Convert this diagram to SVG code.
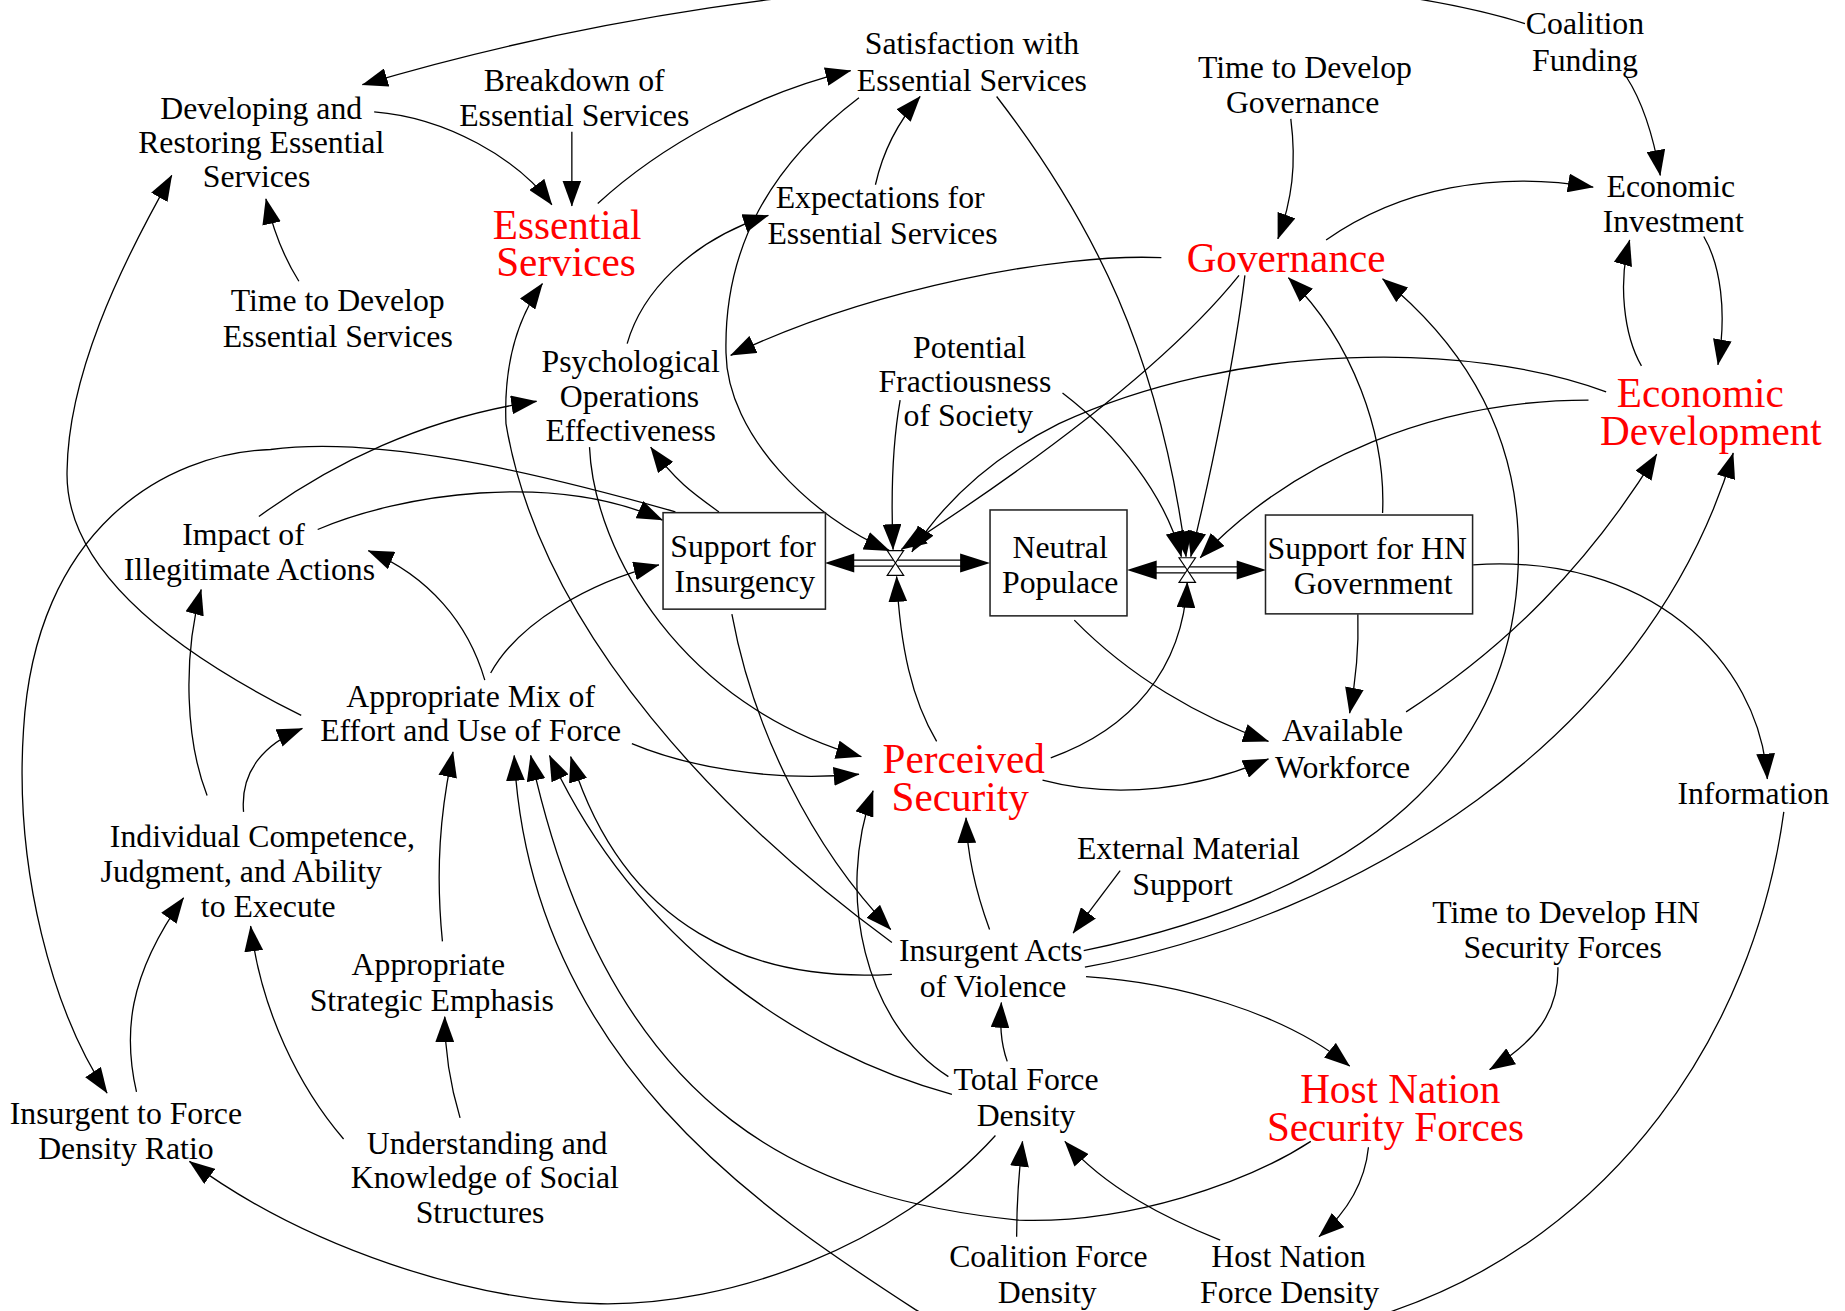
<svg xmlns="http://www.w3.org/2000/svg" width="1845" height="1311" viewBox="0 0 1845 1311">
<defs>
<style>
.n{font-family:"Liberation Serif","Times New Roman",serif;font-size:27px;fill:#000;text-anchor:middle}
.r{font-family:"Liberation Serif","Times New Roman",serif;font-size:35px;fill:#ff0000;text-anchor:middle}
.c{fill:none;stroke:#000;stroke-width:1.1;marker-end:url(#ah)}
.box{fill:#fff;stroke:#222;stroke-width:1.3}
.valve{fill:#fff;stroke:#000;stroke-width:1}
</style>
<marker id="ah" markerUnits="userSpaceOnUse" markerWidth="22" markerHeight="16" viewBox="0 0 22 16" refX="21.5" refY="8" orient="auto">
<path d="M0,0 L22,8 L0,16 z" fill="#000"/>
</marker>
</defs>
<rect x="0" y="0" width="1845" height="1311" fill="#fff"/>
<g transform="scale(1.17666)">
<g id="connectors">
<path class="c" d="M1296 20 C1120 -35,700 -45,308 72"/>
<path class="c" d="M318 95 C380 100,440 135,469 174"/>
<path class="c" d="M486 112 L486 175"/>
<path class="c" d="M254 239 C242 220,232 195,226 169"/>
<path class="c" d="M508 173 C560 125,640 80,723 60"/>
<path class="c" d="M744 157 C750 130,762 105,782 82"/>
<path class="c" d="M730 83 C655 140,615 210,617 300 C618 370,690 440,756 468"/>
<path class="c" d="M847 82 C930 190,985 300,1008 473"/>
<path class="c" d="M1097 101 C1102 140,1098 170,1086 203"/>
<path class="c" d="M1382 65 C1395 85,1405 115,1411 149"/>
<path class="c" d="M1127 204 C1190 160,1270 145,1354 159"/>
<path class="c" d="M1448 201 C1462 225,1468 265,1460 310"/>
<path class="c" d="M1395 311 C1380 285,1375 240,1385 204"/>
<path class="c" d="M987 219 C900 215,740 245,621 302"/>
<path class="c" d="M533 292 C545 250,585 205,653 183"/>
<path class="c" d="M611 435 C590 420,575 410,553 380"/>
<path class="c" d="M220 439 C280 395,360 355,456 341"/>
<path class="c" d="M270 450 C340 420,470 400,563 442"/>
<path class="c" d="M574 435 C450 400,320 370,230 382 C140 385,30 450,20 620 C12 740,45 860,91 929"/>
<path class="c" d="M256 608 C120 540,55 470,57 400 C58 320,100 230,146 149"/>
<path class="c" d="M116 928 C105 880,108 830,156 763"/>
<path class="c" d="M292 968 C255 925,222 860,213 787"/>
<path class="c" d="M391 950 C382 920,378 895,378 864"/>
<path class="c" d="M376 800 C370 740,374 690,385 639"/>
<path class="c" d="M176 676 C158 630,155 560,171 501"/>
<path class="c" d="M207 690 C204 655,225 632,257 619"/>
<path class="c" d="M412 578 C398 530,365 490,313 468"/>
<path class="c" d="M417 572 C440 530,500 495,560 480"/>
<path class="c" d="M537 632 C580 650,650 665,730 658"/>
<path class="c" d="M501 380 C505 470,580 600,732 643"/>
<path class="c" d="M796 630 C775 595,765 550,762 490"/>
<path class="c" d="M893 644 C960 620,1005 570,1009 495"/>
<path class="c" d="M886 663 C950 680,1020 670,1078 645"/>
<path class="c" d="M913 527 C960 575,1020 610,1078 630"/>
<path class="c" d="M1154 522 C1155 555,1152 580,1147 606"/>
<path class="c" d="M1195 605 C1280 550,1350 480,1408 386"/>
<path class="c" d="M1252 480 C1400 470,1495 560,1502 662"/>
<path class="c" d="M1516 690 C1490 880,1370 1050,1184 1114 C1064 1155,880 1170,778 1113 C650 1030,450 900,437 642"/>
<path class="c" d="M1114 970 C1060 1005,960 1040,866 1037 C700 1020,520 960,451 642"/>
<path class="c" d="M809 930 C680 895,540 800,467 642"/>
<path class="c" d="M758 828 C640 835,530 790,485 643"/>
<path class="c" d="M806 915 C735 870,710 760,742 672"/>
<path class="c" d="M846 965 C760 1060,620 1110,510 1108 C400 1106,260 1060,161 987"/>
<path class="c" d="M856 902 C850 885,850 870,851 852"/>
<path class="c" d="M864 1051 C864 1020,866 995,869 970"/>
<path class="c" d="M1037 1054 C990 1035,940 1010,905 970"/>
<path class="c" d="M1163 975 C1160 1005,1145 1030,1121 1051"/>
<path class="c" d="M1324 822 C1325 860,1305 885,1266 909"/>
<path class="c" d="M923 830 C1000 835,1090 860,1147 906"/>
<path class="c" d="M952 740 L912 793"/>
<path class="c" d="M841 790 C830 760,822 730,821 695"/>
<path class="c" d="M622 522 C640 620,690 720,757 790"/>
<path class="c" d="M758 801 C620 700,460 540,430 360 C428 310,440 270,461 241"/>
<path class="c" d="M921 808 C1150 760,1300 650,1290 450 C1285 360,1240 290,1175 237"/>
<path class="c" d="M922 822 C1150 780,1400 630,1473 385"/>
<path class="c" d="M1175 436 C1178 370,1150 290,1095 236"/>
<path class="c" d="M765 340 C758 380,757 420,759 467"/>
<path class="c" d="M903 334 C950 370,990 420,1004 473"/>
<path class="c" d="M1053 234 C1000 300,900 380,766 467"/>
<path class="c" d="M1058 234 C1050 300,1030 400,1012 473"/>
<path class="c" d="M1365 333 C1250 290,1050 290,900 360 C840 390,800 430,775 469"/>
<path class="c" d="M1350 340 C1220 340,1100 390,1020 474"/>
</g>
<g id="flow-left">
<line x1="720" y1="478.5" x2="822" y2="478.5" stroke="#000" stroke-width="6.2"/>
<line x1="718" y1="478.5" x2="824" y2="478.5" stroke="#fff" stroke-width="4"/>
<polygon points="701,478.5 726,470.5 726,486.5" fill="#000"/>
<polygon points="841.4,478.5 816,470.5 816,486.5" fill="#000"/>
<polygon class="valve" points="754,468 768,468 761,478.5"/>
<polygon class="valve" points="754,489 768,489 761,478.5"/>
</g>
<g id="flow-right">
<line x1="977" y1="484.4" x2="1057" y2="484.4" stroke="#000" stroke-width="6.2"/>
<line x1="975" y1="484.4" x2="1059" y2="484.4" stroke="#fff" stroke-width="4"/>
<polygon points="957.8,484.4 983,476.4 983,492.4" fill="#000"/>
<polygon points="1076,484.4 1051,476.4 1051,492.4" fill="#000"/>
<polygon class="valve" points="1002,474 1016,474 1009,484.4"/>
<polygon class="valve" points="1002,495 1016,495 1009,484.4"/>
</g>
<g id="support-insurgency">
<rect class="box" x="563.5" y="435.7" width="138" height="82"/>
<text class="n"><tspan x="631.5" y="473">Support for</tspan><tspan x="633" y="503">Insurgency</tspan></text>
</g>
<g id="neutral-populace">
<rect class="box" x="841.4" y="433.4" width="116.4" height="90"/>
<text class="n"><tspan x="901" y="474">Neutral</tspan><tspan x="901" y="504">Populace</tspan></text>
</g>
<g id="support-hn-government">
<rect class="box" x="1075.5" y="437.7" width="176" height="84"/>
<text class="n"><tspan x="1162" y="475">Support for HN</tspan><tspan x="1167" y="505">Government</tspan></text>
</g>
<g id="developing-restoring"><text class="n"><tspan x="222" y="101">Developing and</tspan><tspan x="222" y="130">Restoring Essential</tspan><tspan x="218" y="159">Services</tspan></text></g>
<g id="breakdown"><text class="n"><tspan x="488" y="77">Breakdown of</tspan><tspan x="488" y="107">Essential Services</tspan></text></g>
<g id="satisfaction"><text class="n"><tspan x="826" y="46">Satisfaction with</tspan><tspan x="826" y="77">Essential Services</tspan></text></g>
<g id="time-governance"><text class="n"><tspan x="1109" y="66">Time to Develop</tspan><tspan x="1107" y="96">Governance</tspan></text></g>
<g id="coalition-funding"><text class="n"><tspan x="1347" y="29">Coalition</tspan><tspan x="1347" y="60">Funding</tspan></text></g>
<g id="economic-investment"><text class="n"><tspan x="1420" y="167">Economic</tspan><tspan x="1422" y="197">Investment</tspan></text></g>
<g id="expectations"><text class="n"><tspan x="748" y="177">Expectations for</tspan><tspan x="750" y="207">Essential Services</tspan></text></g>
<g id="time-essential"><text class="n"><tspan x="287" y="264">Time to Develop</tspan><tspan x="287" y="295">Essential Services</tspan></text></g>
<g id="psyops"><text class="n"><tspan x="536" y="316">Psychological</tspan><tspan x="535" y="346">Operations</tspan><tspan x="536" y="375">Effectiveness</tspan></text></g>
<g id="fractiousness"><text class="n"><tspan x="824" y="304">Potential</tspan><tspan x="820" y="333">Fractiousness</tspan><tspan x="823" y="362">of Society</tspan></text></g>
<g id="impact-illegitimate"><text class="n"><tspan x="207" y="463">Impact of</tspan><tspan x="212" y="493">Illegitimate Actions</tspan></text></g>
<g id="appropriate-mix"><text class="n"><tspan x="400" y="601">Appropriate Mix of</tspan><tspan x="400" y="630">Effort and Use of Force</tspan></text></g>
<g id="individual-competence"><text class="n"><tspan x="223" y="720">Individual Competence,</tspan><tspan x="205" y="750">Judgment, and Ability</tspan><tspan x="228" y="779">to Execute</tspan></text></g>
<g id="strategic-emphasis"><text class="n"><tspan x="364" y="829">Appropriate</tspan><tspan x="367" y="859">Strategic Emphasis</tspan></text></g>
<g id="insurgent-ratio"><text class="n"><tspan x="107" y="955">Insurgent to Force</tspan><tspan x="107" y="985">Density Ratio</tspan></text></g>
<g id="understanding"><text class="n"><tspan x="414" y="981">Understanding and</tspan><tspan x="412" y="1010">Knowledge of Social</tspan><tspan x="408" y="1039">Structures</tspan></text></g>
<g id="insurgent-acts"><text class="n"><tspan x="842" y="817">Insurgent Acts</tspan><tspan x="844" y="847">of Violence</tspan></text></g>
<g id="external-support"><text class="n"><tspan x="1010" y="730">External Material</tspan><tspan x="1005" y="761">Support</tspan></text></g>
<g id="total-force"><text class="n"><tspan x="872" y="926">Total Force</tspan><tspan x="872" y="957">Density</tspan></text></g>
<g id="coalition-force"><text class="n"><tspan x="891" y="1077">Coalition Force</tspan><tspan x="890" y="1107">Density</tspan></text></g>
<g id="hn-force-density"><text class="n"><tspan x="1095" y="1077">Host Nation</tspan><tspan x="1096" y="1107">Force Density</tspan></text></g>
<g id="time-hnsf"><text class="n"><tspan x="1331" y="784">Time to Develop HN</tspan><tspan x="1328" y="814">Security Forces</tspan></text></g>
<g id="available-workforce"><text class="n"><tspan x="1141" y="630">Available</tspan><tspan x="1141" y="661">Workforce</tspan></text></g>
<g id="information"><text class="n"><tspan x="1490" y="683">Information</tspan></text></g>
<g id="essential-services"><text class="r"><tspan x="482" y="203">Essential</tspan><tspan x="481" y="234.5">Services</tspan></text></g>
<g id="governance"><text class="r"><tspan x="1093" y="231">Governance</tspan></text></g>
<g id="economic-development"><text class="r"><tspan x="1445" y="346">Economic</tspan><tspan x="1454" y="378.5">Development</tspan></text></g>
<g id="perceived-security"><text class="r"><tspan x="819" y="657">Perceived</tspan><tspan x="816" y="689.5">Security</tspan></text></g>
<g id="hn-security-forces"><text class="r"><tspan x="1190" y="937">Host Nation</tspan><tspan x="1186" y="969.5">Security Forces</tspan></text></g>
</g>
</svg>
